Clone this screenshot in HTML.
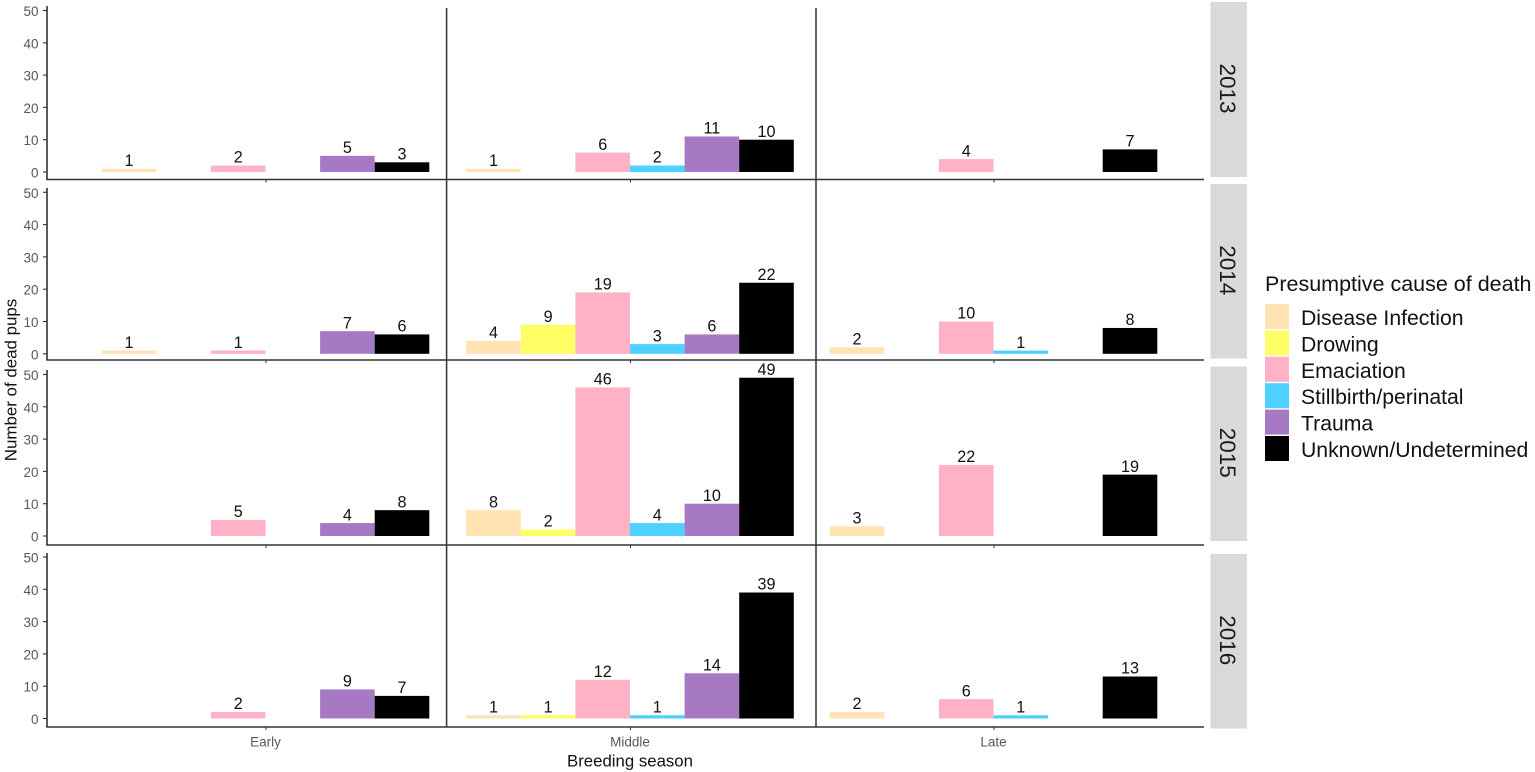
<!DOCTYPE html>
<html lang="en">
<head>
<meta charset="utf-8">
<title>Presumptive cause of death by breeding season</title>
<style>
html,body{margin:0;padding:0;background:#fff;width:1535px;height:772px;overflow:hidden}
svg{display:block;font-family:"Liberation Sans",Arial,sans-serif}
</style>
</head>
<body>
<svg id="chart" xmlns="http://www.w3.org/2000/svg" width="1535" height="772" viewBox="0 0 1535 772"></svg>
<script>
const years = ['2013', '2014', '2015', '2016'];
const seasons = ['Early', 'Middle', 'Late'];
const causes = ['Disease Infection', 'Drowing', 'Emaciation', 'Stillbirth/perinatal', 'Trauma', 'Unknown/Undetermined'];
const yTickValues = [0, 10, 20, 30, 40, 50];

const counts2013Early = [1, 0, 2, 0, 5, 3];
const counts2013Middle = [1, 0, 6, 2, 11, 10];
const counts2013Late = [0, 0, 4, 0, 0, 7];
const counts2014Early = [1, 0, 1, 0, 7, 6];
const counts2014Middle = [4, 9, 19, 3, 6, 22];
const counts2014Late = [2, 0, 10, 1, 0, 8];
const counts2015Early = [0, 0, 5, 0, 4, 8];
const counts2015Middle = [8, 2, 46, 4, 10, 49];
const counts2015Late = [3, 0, 22, 0, 0, 19];
const counts2016Early = [0, 0, 2, 0, 9, 7];
const counts2016Middle = [1, 1, 12, 1, 14, 39];
const counts2016Late = [2, 0, 6, 1, 0, 13];

const counts = [
  [counts2013Early, counts2013Middle, counts2013Late],
  [counts2014Early, counts2014Middle, counts2014Late],
  [counts2015Early, counts2015Middle, counts2015Late],
  [counts2016Early, counts2016Middle, counts2016Late]
];

/* Layout (style, not data) */
const causeColors = ['#FFE3B3', '#FFFF66', '#FFB2C6', '#4DD2FF', '#A679C4', '#000000'];
const rowFrame = [
  {top: 6, bottom: 179.5, zero: 172, stripTop: 2, stripBottom: 177},
  {top: 188, bottom: 360, zero: 353.8, stripTop: 184, stripBottom: 358.5},
  {top: 370, bottom: 545, zero: 536, stripTop: 366.5, stripBottom: 541},
  {top: 553, bottom: 727, zero: 718.5, stripTop: 554, stripBottom: 728.5}
];
const colFrame = [
  {left: 47, right: 446.6, center: 265.5},
  {left: 446.6, right: 816, center: 630},
  {left: 816, right: 1204, center: 993.5}
];
const unitHeight = 3.23;
const barWidth = 54.6;
const axisColor = '#333333';
const tickTextColor = '#5a5560';

const svg = document.getElementById('chart');
const NS = 'http://www.w3.org/2000/svg';

function make(tag, attrs, text) {
  const el = document.createElementNS(NS, tag);
  for (const k in attrs) el.setAttribute(k, attrs[k]);
  if (text !== undefined) el.textContent = text;
  svg.appendChild(el);
  return el;
}
function yScale(row, v) { return rowFrame[row].zero - v * unitHeight; }
function xScale(col, i) { return colFrame[col].center + (i - causes.length / 2) * barWidth; }

/* bars and value labels */
years.forEach(function (year, r) {
  seasons.forEach(function (season, c) {
    counts[r][c].forEach(function (v, i) {
      if (!v) return;
      const bar = make('rect', {x: xScale(c, i), y: yScale(r, v), width: barWidth, height: v * unitHeight, fill: causeColors[i]});
      
      
      const label = make('text', {x: xScale(c, i) + barWidth / 2, y: yScale(r, v) - 2.8, 'text-anchor': 'middle', 'font-size': 16.2, fill: '#111'}, String(v));
      
      
    });
  });
});

/* axes */
years.forEach(function (year, r) {
  const f = rowFrame[r];
  const yAxis = make('line', {x1: 47, x2: 47, y1: f.top, y2: f.bottom, stroke: axisColor, 'stroke-width': 1.6});
  
  
  const xAxis = make('line', {x1: 46.3, x2: 1204, y1: f.bottom, y2: f.bottom, stroke: axisColor, 'stroke-width': 1.5});
  
  
  yTickValues.forEach(function (t) {
    const y = yScale(r, t);
    const tick = make('line', {x1: 43, x2: 47, y1: y, y2: y, stroke: axisColor, 'stroke-width': 1.1});
    
    
    const tl = make('text', {x: 38.5, y: y + 5.5, 'text-anchor': 'end', 'font-size': 13.5, fill: tickTextColor}, String(t));
    
    
  });
  colFrame.forEach(function (col, c) {
    const tick = make('line', {x1: col.center + 0.5, x2: col.center + 0.5, y1: f.bottom, y2: f.bottom + 3, stroke: axisColor, 'stroke-width': 1});
    
    
  });
  const strip = make('rect', {x: 1210.5, y: f.stripTop, width: 36.5, height: f.stripBottom - f.stripTop, fill: '#d9d9d9'});
  
  
  const cy = (f.stripTop + f.stripBottom) / 2 - 1;
  const st = make('text', {x: 1227.5, y: cy, transform: 'rotate(90 1227.5 ' + cy + ')', 'text-anchor': 'middle', 'dominant-baseline': 'central', 'font-size': 22.5, fill: '#1a1a1a'}, year);
  
  
});

/* panel dividers */
[colFrame[1].left, colFrame[2].left].forEach(function (x, i) {
  const divider = make('line', {x1: x, x2: x, y1: 8, y2: 727, stroke: axisColor, 'stroke-width': 1.5});
  
  
});

/* x tick labels */
seasons.forEach(function (s, c) {
  const tl = make('text', {x: colFrame[c].center, y: 746.7, 'text-anchor': 'middle', 'font-size': 13.5, fill: tickTextColor}, s);
  
  
});

/* legend */
causes.forEach(function (name, i) {
  const y = 304 + i * 26.4;
  const key = make('rect', {x: 1265, y: y, width: 24, height: 25, fill: causeColors[i]});
  
  
  const lt = make('text', {x: 1301, y: y + 21, 'font-size': 21.2, fill: '#111'}, name);
  
  
});
</script>
<script>
(function () {
  const s = document.getElementById('chart');
  const ns = 'http://www.w3.org/2000/svg';
  const title = document.createElementNS(ns, 'text');
  title.setAttribute('x', '1265');
  title.setAttribute('y', '291');
  title.setAttribute('font-size', '21.5');
  title.setAttribute('fill', '#111');
  
  
  title.textContent = 'Presumptive cause of death';
  s.appendChild(title);
  const yt = document.createElementNS(ns, 'text');
  yt.setAttribute('x', '16.5');
  yt.setAttribute('y', '380');
  yt.setAttribute('transform', 'rotate(-90 16.5 380)');
  yt.setAttribute('text-anchor', 'middle');
  yt.setAttribute('font-size', '16.9');
  yt.setAttribute('fill', '#111');
  
  
  yt.textContent = 'Number of dead pups';
  s.appendChild(yt);
  const xt = document.createElementNS(ns, 'text');
  xt.setAttribute('x', '630');
  xt.setAttribute('y', '766.5');
  xt.setAttribute('text-anchor', 'middle');
  xt.setAttribute('font-size', '16.8');
  xt.setAttribute('fill', '#111');
  
  
  xt.textContent = 'Breeding season';
  s.appendChild(xt);
})();
</script>
</body>
</html>
